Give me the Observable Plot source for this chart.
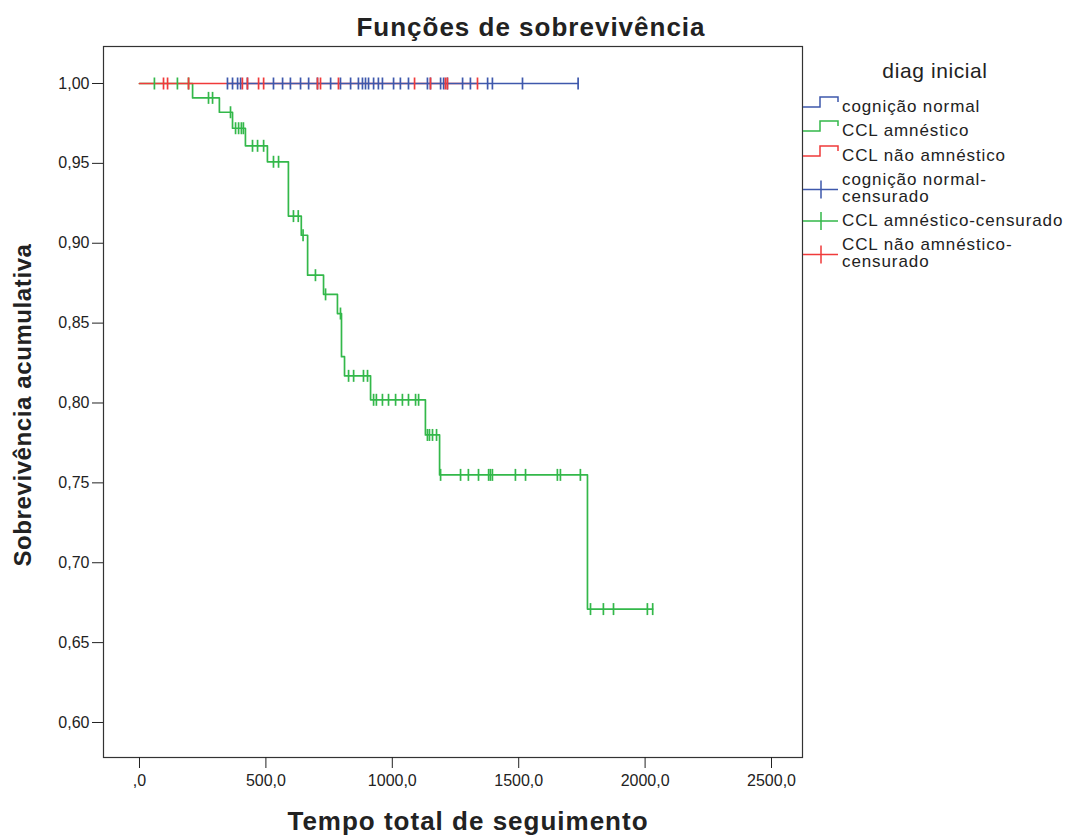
<!DOCTYPE html>
<html>
<head>
<meta charset="utf-8">
<script src="https://cdn.jsdelivr.net/npm/d3@7"></script>
<script src="https://cdn.jsdelivr.net/npm/@observablehq/plot@0.6"></script>
<style>
  body { margin: 0; background: #fff; }
  #wrap { position: relative; width: 1072px; height: 836px; font-family: "Liberation Sans", Arial, sans-serif; }
  #wrap svg { position: absolute; left: 0; top: 0; }
</style>
</head>
<body>
<div id="wrap"></div>
<script>
// Kaplan–Meier survival by initial diagnosis
const groups = ["cognição normal", "CCL amnéstico", "CCL não amnéstico"];
const groupColors = ["#3e58ac", "#33b84a", "#f03a3a"];

// CCL amnéstico: event times (days) and cumulative survival after each event
const amnEventTimes = [210, 316, 368, 419, 506, 589, 640, 665, 728, 783, 799, 811, 914, 1131, 1187, 1772];
const amnSurvival   = [0.991, 0.982, 0.972, 0.961, 0.951, 0.917, 0.905, 0.880, 0.868, 0.856, 0.829, 0.817, 0.802, 0.780, 0.755, 0.671];
const amnCensored   = [59, 150, 194, 273, 289, 360, 380, 392, 403, 411, 447, 467, 491, 530, 550, 609, 628, 647,
                       696, 736, 795, 827, 847, 886, 902, 926, 937, 961, 985, 1013, 1040, 1064, 1092, 1104,
                       1139, 1147, 1159, 1175, 1191, 1270, 1301, 1341, 1381, 1388, 1396, 1487, 1527, 1653, 1665,
                       1744, 1784, 1835, 1875, 2009, 2030];

// cognição normal and CCL não amnéstico: no events, censored times only
const normalCensored = [348, 368, 388, 400, 427, 530, 566, 597, 637, 669, 704, 756, 795, 835, 866, 882, 894, 906,
                        926, 945, 961, 1005, 1032, 1064, 1139, 1151, 1191, 1203, 1218, 1278, 1309, 1377, 1396,
                        1515, 1735];
const naoAmnCensored = [95, 111, 194, 407, 427, 471, 491, 704, 716, 787, 1088, 1151, 1210, 1218, 1337];

// first time shown on each curve
const curveStart = [348, 0, 0];

const xTicks = [0, 500, 1000, 1500, 2000, 2500];
const yTicks = [0.60, 0.65, 0.70, 0.75, 0.80, 0.85, 0.90, 0.95, 1.00];

const legendEntries = [
  {label: ["cognição normal"], color: groupColors[0], kind: "step"},
  {label: ["CCL amnéstico"], color: groupColors[1], kind: "step"},
  {label: ["CCL não amnéstico"], color: groupColors[2], kind: "step"},
  {label: ["cognição normal-", "censurado"], color: groupColors[0], kind: "cross"},
  {label: ["CCL amnéstico-censurado"], color: groupColors[1], kind: "cross"},
  {label: ["CCL não amnéstico-", "censurado"], color: groupColors[2], kind: "cross"}
];

// step function value of a group's survival curve at time t
function survivalAt(eventTimes, survival, t) {
  let s = 1;
  for (let i = 0; i < eventTimes.length; i++) if (eventTimes[i] <= t) s = survival[i];
  return s;
}

const series = [
  {group: groups[0], events: [], surv: [], censored: normalCensored},
  {group: groups[1], events: amnEventTimes, surv: amnSurvival, censored: amnCensored},
  {group: groups[2], events: [], surv: [], censored: naoAmnCensored}
];

const lineRows = [];
const censorRows = [];
series.forEach((s, gi) => {
  lineRows.push({group: s.group, t: curveStart[gi], s: 1});
  s.events.forEach((t, i) => lineRows.push({group: s.group, t, s: s.surv[i]}));
  const last = s.censored[s.censored.length - 1];
  lineRows.push({group: s.group, t: last, s: survivalAt(s.events, s.surv, last)});
  s.censored.forEach(t => censorRows.push({group: s.group, t, s: survivalAt(s.events, s.surv, t)}));
});

// vertical censor tick
const censorTick = {
  draw(context, size) {
    const h = Math.sqrt(size / Math.PI);
    context.moveTo(0, -h);
    context.lineTo(0, h);
  }
};

const comma = (v, d) => v.toFixed(d).replace(".", ",");
const lineOrder = [groups[1], groups[2], groups[0]];

const chart = Plot.plot({
  width: 1072,
  height: 836,
  marginLeft: 103,
  marginRight: 270,
  marginTop: 46,
  marginBottom: 79,
  style: {fontFamily: "'Liberation Sans', Arial, sans-serif", fontSize: "16px", color: "#222", background: "white"},
  x: {domain: [-142.4, 2622.6]},
  y: {domain: [0.57809, 1.02316]},
  color: {domain: groups, range: groupColors},
  marks: [
    ...lineOrder.map(g => Plot.line(lineRows.filter(d => d.group === g), {
      x: "t", y: "s", stroke: "group", curve: "step-after", strokeWidth: 1.7
    })),
    Plot.dot(censorRows, {x: "t", y: "s", stroke: "group", symbol: censorTick, r: 6, strokeWidth: 1.7}),
    Plot.frame({stroke: "#333", strokeWidth: 1.2}),
    Plot.axisX({ticks: xTicks, tickSize: 11, tickPadding: 6, label: null,
      tickFormat: d => d === 0 ? ",0" : comma(d, 1), fontSize: 16}),
    Plot.axisY({ticks: yTicks, tickSize: 11, tickPadding: 3, label: null,
      tickFormat: d => comma(d, 2), fontSize: 16})
  ]
});

const wrap = document.getElementById("wrap");
wrap.appendChild(chart);

// titles and legend drawn in an overlay layer
const svg = d3.select(wrap).append("svg").attr("width", 1072).attr("height", 836)
  .style("font-family", "'Liberation Sans', Arial, sans-serif").attr("fill", "#222");

svg.append("text").attr("x", 531).attr("y", 36).attr("text-anchor", "middle")
  .attr("font-size", 26).attr("font-weight", "bold").attr("letter-spacing", 1)
  .text("Funções de sobrevivência");
svg.append("text").attr("x", 468).attr("y", 830).attr("text-anchor", "middle")
  .attr("font-size", 26).attr("font-weight", "bold").attr("letter-spacing", 1)
  .text("Tempo total de seguimento");
svg.append("text").attr("transform", "translate(31,405) rotate(-90)").attr("text-anchor", "middle")
  .attr("font-size", 24).attr("font-weight", "bold").attr("letter-spacing", 0.6)
  .text("Sobrevivência acumulativa");

svg.append("text").attr("x", 935).attr("y", 78).attr("text-anchor", "middle")
  .attr("font-size", 21).attr("letter-spacing", 0.6).text("diag inicial");

const baselines = [[112], [136], [161], [185, 202], [226], [250, 267]];
legendEntries.forEach((e, i) => {
  const b = baselines[i];
  const g = svg.append("g");
  if (e.kind === "step") {
    const yl = b[0] - 5, yh = b[0] - 15;
    g.append("path").attr("d", `M803,${yl}H820V${yh}H838V${yh + 5}`)
      .attr("fill", "none").attr("stroke", e.color).attr("stroke-width", 1.5);
  } else {
    const yc = b.length > 1 ? (b[0] + b[1]) / 2 - 4 : b[0] - 5;
    g.append("path").attr("d", `M803,${yc}H838M821,${yc - 9}V${yc + 9}`)
      .attr("fill", "none").attr("stroke", e.color).attr("stroke-width", 1.5);
  }
  e.label.forEach((line, j) => {
    g.append("text").attr("x", 842).attr("y", b[j]).attr("font-size", 17)
      .attr("letter-spacing", 0.9).text(line);
  });
});
</script>
</body>
</html>
